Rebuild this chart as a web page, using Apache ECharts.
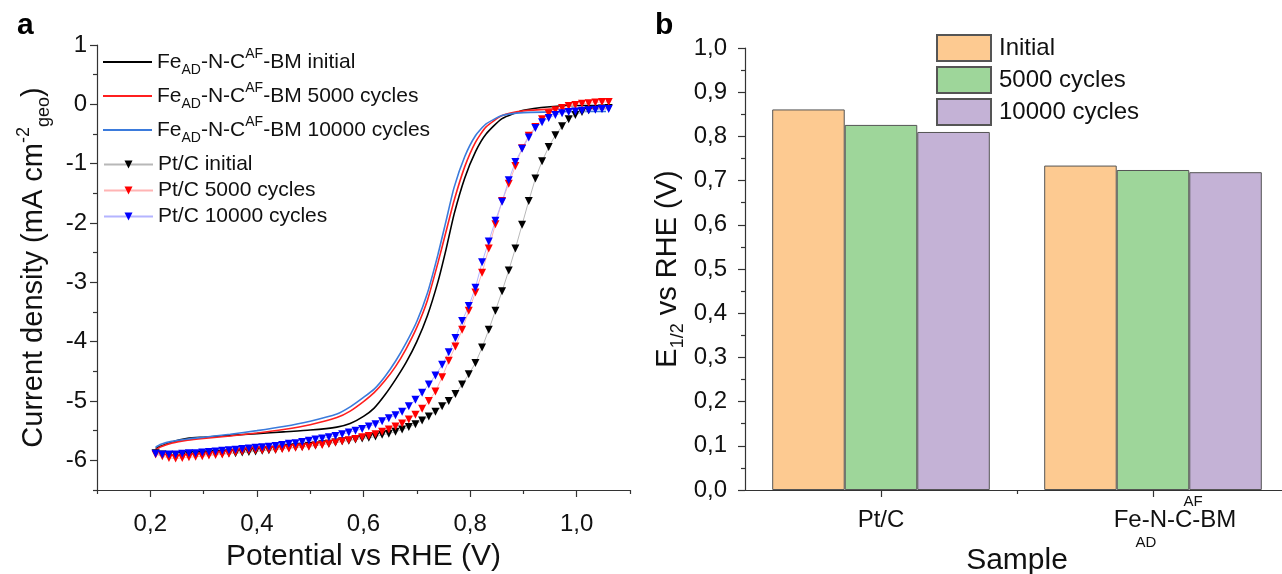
<!DOCTYPE html>
<html>
<head>
<meta charset="utf-8">
<script src="https://cdn.jsdelivr.net/npm/echarts@6/dist/echarts.min.js"></script>
<style>
html, body { margin: 0; padding: 0; background: #fff; }
#chart { width: 1282px; height: 574px; }
</style>
</head>
<body>
<div id="chart"></div>
<script>
// ---- panel a: RDE polarisation curves ----
// Pt/C, sampled every 12.5 mV (V vs RHE)
var ptPotential = [
    0.21, 0.2225, 0.235, 0.2475, 0.26, 0.2725, 0.285, 0.2975, 0.31, 0.3225,
    0.335, 0.3475, 0.36, 0.3725, 0.385, 0.3975, 0.41, 0.4225, 0.435, 0.4475,
    0.46, 0.4725, 0.485, 0.4975, 0.51, 0.5225, 0.535, 0.5475, 0.56, 0.5725,
    0.585, 0.5975, 0.61, 0.6225, 0.635, 0.6475, 0.66, 0.6725, 0.685, 0.6975,
    0.71, 0.7225, 0.735, 0.7475, 0.76, 0.7725, 0.785, 0.7975, 0.81, 0.8225,
    0.835, 0.8475, 0.86, 0.8725, 0.885, 0.8975, 0.91, 0.9225, 0.935, 0.9475,
    0.96, 0.9725, 0.985, 0.9975, 1.01, 1.0225, 1.035, 1.0475, 1.06
];
var ptInitial = [
    -5.88, -5.90, -5.91, -5.91, -5.91, -5.91, -5.90, -5.90, -5.90, -5.89,
    -5.89, -5.88, -5.88, -5.87, -5.86, -5.85, -5.84, -5.83, -5.82, -5.80,
    -5.79, -5.78, -5.77, -5.76, -5.75, -5.73, -5.72, -5.70, -5.68, -5.67,
    -5.65, -5.63, -5.62, -5.60, -5.57, -5.55, -5.52, -5.48, -5.44, -5.39,
    -5.33, -5.26, -5.18, -5.09, -5.00, -4.88, -4.72, -4.55, -4.36, -4.10,
    -3.80, -3.48, -3.15, -2.80, -2.43, -2.03, -1.63, -1.25, -0.96, -0.72,
    -0.52, -0.37, -0.25, -0.18, -0.13, -0.10, -0.08, -0.07, -0.06
];
var pt5000 = [
    -5.90, -5.93, -5.96, -5.97, -5.96, -5.95, -5.94, -5.93, -5.92, -5.91,
    -5.90, -5.89, -5.87, -5.85, -5.84, -5.83, -5.83, -5.82, -5.82, -5.81,
    -5.80, -5.79, -5.78, -5.77, -5.75, -5.74, -5.72, -5.70, -5.68, -5.66,
    -5.64, -5.61, -5.59, -5.56, -5.52, -5.48, -5.43, -5.38, -5.31, -5.23,
    -5.13, -5.00, -4.84, -4.60, -4.32, -4.08, -3.80, -3.48, -3.17, -2.84,
    -2.43, -2.02, -1.63, -1.34, -1.04, -0.74, -0.53, -0.38, -0.25, -0.16,
    -0.10, -0.06, -0.03, -0.01, 0.01, 0.02, 0.03, 0.04, 0.04
];
var pt10000 = [
    -5.89, -5.90, -5.90, -5.90, -5.89, -5.88, -5.88, -5.87, -5.86, -5.85,
    -5.84, -5.83, -5.82, -5.81, -5.80, -5.79, -5.78, -5.77, -5.76, -5.74,
    -5.72, -5.71, -5.69, -5.67, -5.65, -5.63, -5.61, -5.59, -5.56, -5.53,
    -5.50, -5.47, -5.43, -5.39, -5.34, -5.29, -5.24, -5.18, -5.09, -4.98,
    -4.86, -4.72, -4.57, -4.39, -4.18, -3.94, -3.65, -3.40, -3.09, -2.66,
    -2.31, -1.96, -1.64, -1.28, -0.97, -0.75, -0.56, -0.40, -0.30, -0.23,
    -0.18, -0.15, -0.13, -0.12, -0.11, -0.10, -0.09, -0.08, -0.08
];

// Fe-N-C catalyst
var fePotential = [
    0.21, 0.22, 0.24, 0.27, 0.30, 0.35, 0.40, 0.45, 0.50, 0.55,
    0.575, 0.60, 0.62, 0.64, 0.66, 0.68, 0.70, 0.72, 0.74, 0.755,
    0.77, 0.79, 0.81, 0.83, 0.86, 0.90, 0.95, 1.00, 1.055
];
var feInitial = [
    -5.80, -5.76, -5.69, -5.63, -5.61, -5.58, -5.55, -5.52, -5.49, -5.44,
    -5.38, -5.26, -5.12, -4.90, -4.64, -4.35, -4.00, -3.56, -2.98, -2.44,
    -1.85, -1.24, -0.80, -0.50, -0.24, -0.10, -0.04, -0.02, -0.02
];
var fe5000 = [
    -5.82, -5.77, -5.71, -5.66, -5.63, -5.59, -5.54, -5.48, -5.40, -5.28,
    -5.17, -5.01, -4.86, -4.66, -4.42, -4.12, -3.76, -3.30, -2.66, -2.14,
    -1.62, -1.05, -0.64, -0.38, -0.19, -0.11, -0.08, -0.07, -0.07
];
var fe10000 = [
    -5.78, -5.73, -5.68, -5.64, -5.61, -5.56, -5.50, -5.43, -5.34, -5.22,
    -5.10, -4.94, -4.80, -4.59, -4.33, -4.02, -3.66, -3.18, -2.52, -1.96,
    -1.40, -0.88, -0.53, -0.33, -0.19, -0.14, -0.13, -0.12, -0.12
];

var potentialTicks = [0.2, 0.4, 0.6, 0.8, 1.0];
var potentialMinorTicks = [0.1, 0.3, 0.5, 0.7, 0.9, 1.1];
var currentTicks = [-6, -5, -4, -3, -2, -1, 0, 1];
var currentMinorTicks = [-6.5, -5.5, -4.5, -3.5, -2.5, -1.5, -0.5, 0.5];

// ---- panel b: half-wave potentials ----
var samples = ['Pt/C', 'FeAD-N-CAF-BM'];
var halfWaveInitial = [0.861, 0.734];
var halfWave5000 = [0.826, 0.724];
var halfWave10000 = [0.810, 0.719];
var sampleBoundaryTicks = [1];

var FONT = '"Liberation Sans", Arial, sans-serif';
var AXIS_COLOR = '#333';
var TEXT_COLOR = '#111';

var pairs = function (xs, ys) {
    return xs.map(function (x, i) { return [x, ys[i]]; });
};

var comma = function (v) {
    return v.toFixed(1).replace('.', ',');
};

var feLegendText = {
    'FeAD-N-CAF-BM initial': '{n|Fe}{sub|AD}{n|-N-C}{sup|AF}{n|-BM initial}',
    'FeAD-N-CAF-BM 5000 cycles': '{n|Fe}{sub|AD}{n|-N-C}{sup|AF}{n|-BM 5000 cycles}',
    'FeAD-N-CAF-BM 10000 cycles': '{n|Fe}{sub|AD}{n|-N-C}{sup|AF}{n|-BM 10000 cycles}'
};

var sampleLabelText = {
    'Pt/C': '{sp| }\n{n|Pt/C}\n{sb| }',
    'FeAD-N-CAF-BM': '{sp|AF}\n{nf|Fe-N-C-BM}\n{sb|AD}'
};

var axisLineStyle = { color: AXIS_COLOR, width: 1.2 };

var feSeries = function (name, ys, color) {
    return {
        name: name,
        type: 'line',
        xAxisIndex: 0,
        yAxisIndex: 0,
        data: pairs(fePotential, ys),
        symbol: 'none',
        smooth: 0.2,
        lineStyle: { color: color, width: 1.6 },
        itemStyle: { color: color },
        z: 3
    };
};

var ptSeries = function (name, ys, markerColor, lineColor) {
    return {
        name: name,
        type: 'line',
        xAxisIndex: 0,
        yAxisIndex: 0,
        data: pairs(ptPotential, ys),
        symbol: 'triangle',
        symbolRotate: 180,
        symbolSize: 8,
        showAllSymbol: true,
        lineStyle: { color: lineColor, width: 1 },
        itemStyle: { color: markerColor },
        z: 4
    };
};

var barSeries = function (name, values, color) {
    return {
        name: name,
        type: 'bar',
        xAxisIndex: 2,
        yAxisIndex: 2,
        data: values,
        barGap: 0,
        barCategoryGap: '20%',
        itemStyle: { color: color, borderColor: '#555', borderWidth: 1 }
    };
};

var chart = echarts.init(document.getElementById('chart'), null, { renderer: 'canvas' });

var option = {
    animation: false,
    textStyle: { fontFamily: FONT, color: TEXT_COLOR },
    title: [
        { text: 'a', left: 12, top: 6, textStyle: { fontFamily: FONT, fontSize: 30, fontWeight: 'bold', color: '#000' } },
        { text: 'b', left: 650, top: 6, textStyle: { fontFamily: FONT, fontSize: 30, fontWeight: 'bold', color: '#000' } }
    ],
    grid: [
        { left: 97, top: 45, right: 652, bottom: 84, outerBoundsMode: 'none', containLabel: false },
        { left: 745, top: 48, width: 544, bottom: 84, outerBoundsMode: 'none', containLabel: false }
    ],
    legend: [
        {
            data: Object.keys(feLegendText),
            orient: 'vertical',
            left: 103,
            top: 47,
            padding: 0,
            icon: 'rect',
            itemWidth: 49,
            itemHeight: 2,
            itemGap: 4,
            formatter: function (name) { return feLegendText[name]; },
            textStyle: {
                rich: {
                    n: { fontFamily: FONT, fontSize: 21, color: TEXT_COLOR, lineHeight: 30 },
                    sub: { fontFamily: FONT, fontSize: 14, color: TEXT_COLOR, verticalAlign: 'bottom', lineHeight: 14 },
                    sup: { fontFamily: FONT, fontSize: 14, color: TEXT_COLOR, verticalAlign: 'top', lineHeight: 14 }
                }
            }
        },
        {
            data: ['Pt/C initial', 'Pt/C 5000 cycles', 'Pt/C 10000 cycles'],
            orient: 'vertical',
            left: 103,
            top: 153,
            padding: 0,
            itemWidth: 49,
            itemHeight: 10,
            itemGap: 3,
            textStyle: { fontFamily: FONT, fontSize: 21, color: TEXT_COLOR, lineHeight: 23 }
        },
        {
            data: ['Initial', '5000 cycles', '10000 cycles'],
            orient: 'vertical',
            left: 936,
            top: 34,
            padding: 0,
            icon: 'rect',
            itemWidth: 54,
            itemHeight: 26,
            itemGap: 4,
            textStyle: { fontFamily: FONT, fontSize: 24, color: TEXT_COLOR, padding: [0, 0, 0, 3] }
        }
    ],
    xAxis: [
        {
            gridIndex: 0,
            type: 'value',
            min: 0.1,
            max: 1.1,
            axisLine: { show: true, onZero: false, lineStyle: axisLineStyle },
            axisTick: { show: true, customValues: potentialTicks, length: 7, lineStyle: axisLineStyle },
            axisLabel: { customValues: potentialTicks, formatter: comma, fontSize: 24, color: TEXT_COLOR, margin: 22 },
            splitLine: { show: false },
            name: 'Potential vs RHE (V)',
            nameLocation: 'middle',
            nameGap: 52,
            nameTextStyle: { fontSize: 30, color: TEXT_COLOR }
        },
        {
            gridIndex: 0,
            type: 'value',
            position: 'bottom',
            min: 0.1,
            max: 1.1,
            axisLine: { show: false, onZero: false },
            axisTick: { show: true, customValues: potentialMinorTicks, length: 4, lineStyle: axisLineStyle },
            axisLabel: { show: false },
            splitLine: { show: false }
        },
        {
            gridIndex: 1,
            type: 'category',
            data: samples,
            axisLine: { show: true, onZero: false, lineStyle: axisLineStyle },
            axisTick: { show: true, alignWithLabel: true, length: 7, lineStyle: axisLineStyle },
            axisLabel: {
                interval: 0,
                margin: 1,
                formatter: function (v) { return sampleLabelText[v]; },
                rich: {
                    n: { fontFamily: FONT, fontSize: 24, color: TEXT_COLOR, lineHeight: 26 },
                    nf: { fontFamily: FONT, fontSize: 24, color: TEXT_COLOR, lineHeight: 26, padding: [0, 0, 0, 44] },
                    sp: { fontFamily: FONT, fontSize: 15, color: TEXT_COLOR, lineHeight: 16, padding: [5, 0, 0, 80] },
                    sb: { fontFamily: FONT, fontSize: 15, color: TEXT_COLOR, lineHeight: 20, padding: [0, 14, 0, 0] }
                }
            },
            name: 'Sample',
            nameLocation: 'middle',
            nameGap: 56,
            nameMoveOverlap: false,
            nameTextStyle: { fontSize: 30, color: TEXT_COLOR }
        },
        {
            gridIndex: 1,
            type: 'value',
            position: 'bottom',
            min: 0,
            max: 2,
            axisLine: { show: false, onZero: false },
            axisTick: { show: true, customValues: sampleBoundaryTicks, length: 4, lineStyle: axisLineStyle },
            axisLabel: { show: false },
            splitLine: { show: false }
        }
    ],
    yAxis: [
        {
            gridIndex: 0,
            type: 'value',
            min: -6.5,
            max: 1,
            axisLine: { show: true, onZero: false, lineStyle: axisLineStyle },
            axisTick: { show: true, customValues: currentTicks, length: 7, lineStyle: axisLineStyle },
            axisLabel: { customValues: currentTicks, fontSize: 24, color: TEXT_COLOR, margin: 10 },
            splitLine: { show: false },
            name: '{n|Current density (mA cm}{sup|-2}{sub|geo}{n|)}',
            nameLocation: 'middle',
            nameRotate: 90,
            nameGap: 44,
            nameTextStyle: {
                rich: {
                    n: { fontFamily: FONT, fontSize: 29, color: TEXT_COLOR, lineHeight: 38 },
                    sup: { fontFamily: FONT, fontSize: 18, color: TEXT_COLOR, verticalAlign: 'top', lineHeight: 18 },
                    sub: { fontFamily: FONT, fontSize: 18, color: TEXT_COLOR, verticalAlign: 'bottom', lineHeight: 18 }
                }
            }
        },
        {
            gridIndex: 0,
            type: 'value',
            position: 'left',
            min: -6.5,
            max: 1,
            axisLine: { show: false, onZero: false },
            axisTick: { show: true, customValues: currentMinorTicks, length: 4, lineStyle: axisLineStyle },
            axisLabel: { show: false },
            splitLine: { show: false }
        },
        {
            gridIndex: 1,
            type: 'value',
            min: 0,
            max: 1,
            interval: 0.1,
            axisLine: { show: true, onZero: false, lineStyle: axisLineStyle },
            axisTick: { show: true, length: 7, lineStyle: axisLineStyle },
            minorTick: { show: true, splitNumber: 2, length: 4, lineStyle: axisLineStyle },
            axisLabel: { formatter: comma, fontSize: 24, color: TEXT_COLOR, margin: 18 },
            splitLine: { show: false },
            name: '{n|E}{sub|1/2}{n| vs RHE (V)}',
            nameLocation: 'middle',
            nameRotate: 90,
            nameGap: 58,
            nameTextStyle: {
                rich: {
                    n: { fontFamily: FONT, fontSize: 29, color: TEXT_COLOR, lineHeight: 38 },
                    sub: { fontFamily: FONT, fontSize: 18, color: TEXT_COLOR, verticalAlign: 'bottom', lineHeight: 18 }
                }
            }
        }
    ],
    series: [
        feSeries('FeAD-N-CAF-BM initial', feInitial, '#000000'),
        feSeries('FeAD-N-CAF-BM 5000 cycles', fe5000, '#ff1f1f'),
        feSeries('FeAD-N-CAF-BM 10000 cycles', fe10000, '#3b7bdc'),
        ptSeries('Pt/C initial', ptInitial, '#000000', '#b8b8b8'),
        ptSeries('Pt/C 5000 cycles', pt5000, '#ff0000', '#ffb4b4'),
        ptSeries('Pt/C 10000 cycles', pt10000, '#0000ff', '#b4b4ff'),
        barSeries('Initial', halfWaveInitial, '#fdca91'),
        barSeries('5000 cycles', halfWave5000, '#9ed69a'),
        barSeries('10000 cycles', halfWave10000, '#c4b2d6')
    ]
};

chart.setOption(option);
</script>
</body>
</html>
